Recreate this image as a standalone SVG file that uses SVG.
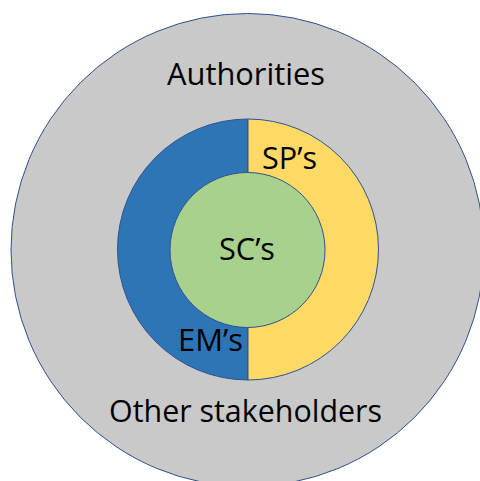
<svg xmlns="http://www.w3.org/2000/svg" width="480" height="481" viewBox="0 0 480 481">
<style>
.shape{stroke:#2F528F;stroke-width:1}
.lbl{font-family:"Open Sans","Liberation Sans",sans-serif;font-size:31px;fill:#000;text-anchor:middle}
</style>
<rect width="480" height="481" fill="#fff"/>
<g id="outer"><circle class="shape" cx="247.5" cy="250" r="236.5" fill="#C9C9C9"/>
<text class="lbl" x="246" y="85" textLength="158" lengthAdjust="spacingAndGlyphs">Authorities</text>
<text class="lbl" x="245.5" y="421.5" textLength="273" lengthAdjust="spacingAndGlyphs">Other stakeholders</text></g>
<g id="em"><path class="shape" d="M248 119 A130.5 130.5 0 0 0 248 380 Z" fill="#2E75B6"/>
<text class="lbl" x="210.5" y="351" textLength="65" lengthAdjust="spacingAndGlyphs">EM’s</text></g>
<g id="sp"><path class="shape" d="M248 119 A130.5 130.5 0 0 1 248 380 Z" fill="#FFD966"/>
<text class="lbl" x="289.5" y="169" textLength="55" lengthAdjust="spacingAndGlyphs">SP’s</text></g>
<g id="sc"><circle class="shape" cx="247.5" cy="250" r="77.5" fill="#A9D18E"/>
<text class="lbl" x="247" y="260" textLength="56" lengthAdjust="spacingAndGlyphs">SC’s</text></g>
<g id="connectors"/>
</svg>
